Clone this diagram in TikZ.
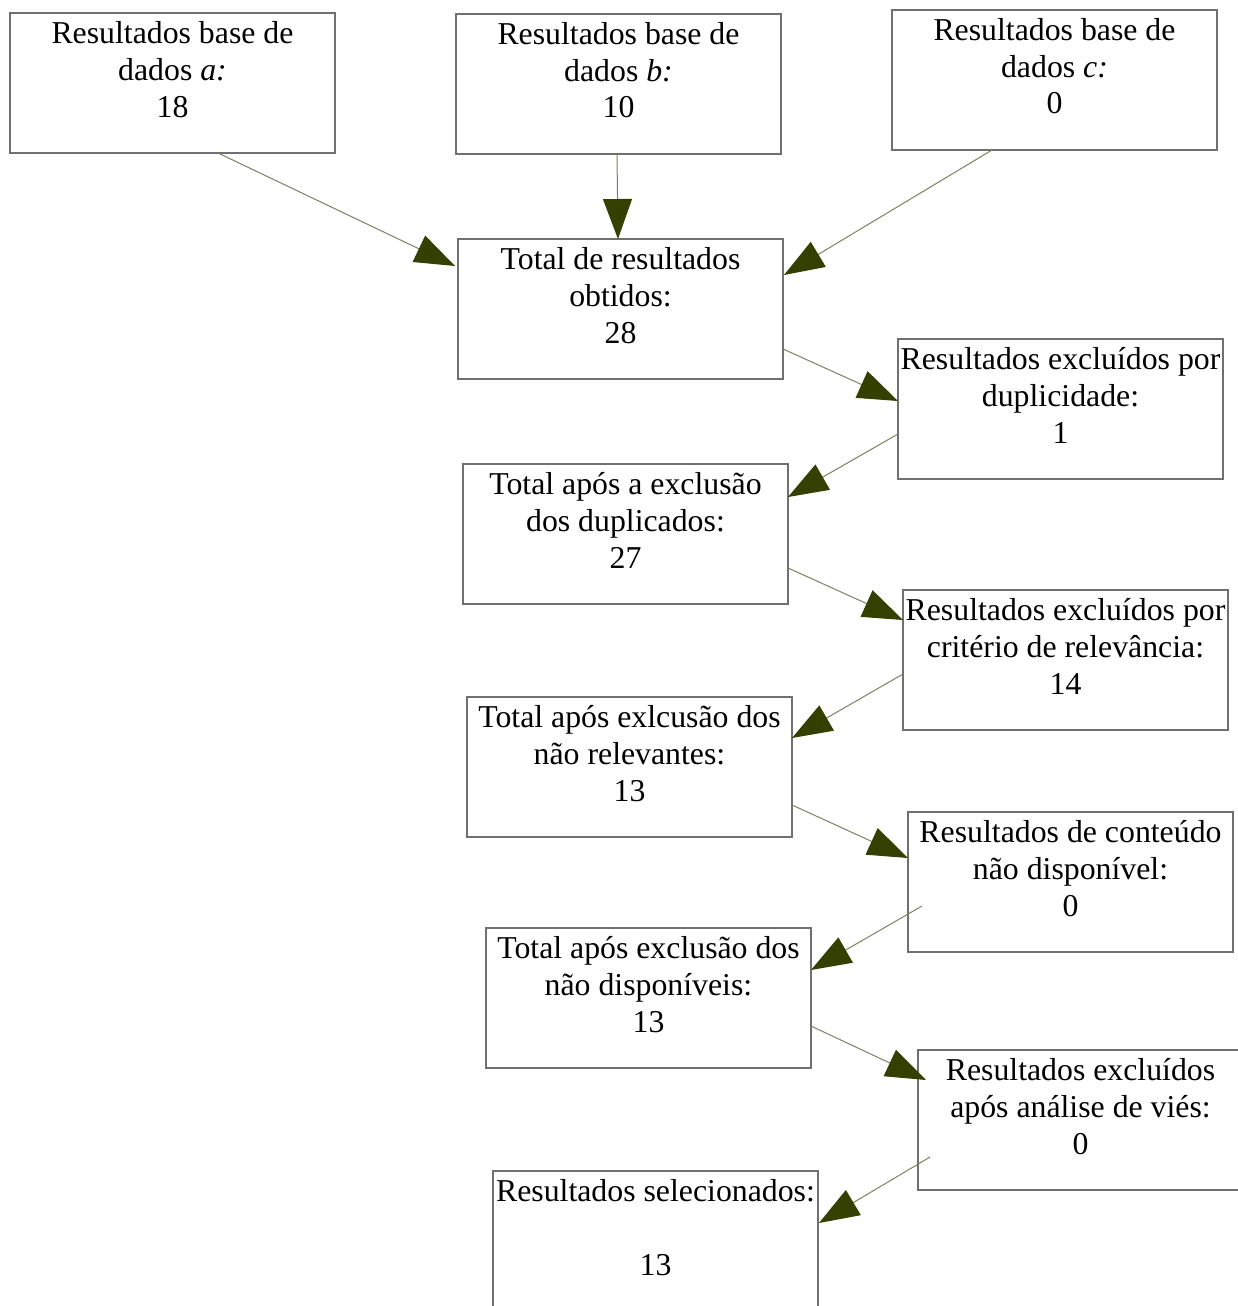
\documentclass[tikz,border=0pt]{standalone}
\usepackage{fontspec}
\setmainfont{Liberation Serif}
\usetikzlibrary{arrows.meta}
\definecolor{linec}{RGB}{128,128,96}
\definecolor{headc}{RGB}{52,64,0}
\definecolor{boxc}{RGB}{112,112,112}
\newcommand\bxt[1]{\parbox[c][140pt][t]{325pt}{\centering\fontsize{31.8}{37}\selectfont\rule{0pt}{30pt}#1}}
\tikzset{
  fbox/.style={draw=boxc, line width=1.2pt, inner sep=0pt, outer sep=0pt, anchor=north west, fill=white},
  conn/.style={draw=linec, line width=1pt, -{Triangle[length=40pt,width=29pt,color=headc]}}
}
\begin{document}
\begin{tikzpicture}[x=1pt,y=-1pt]
\useasboundingbox (0,0) rectangle (1237,1306);
\node[fbox] (A) at (10,13) {\bxt{Resultados base de\\dados \textit{a:}\\18}};
\node[fbox] (B) at (456,14) {\bxt{Resultados base de\\dados \textit{b:}\\10}};
\node[fbox] (C) at (892,10) {\bxt{Resultados base de\\dados \textit{c:}\\0}};
\node[fbox] (T1) at (458,239) {\bxt{Total de resultados\\obtidos:\\28}};
\node[fbox] (D1) at (898,339) {\bxt{Resultados excluídos por\\duplicidade:\\1}};
\node[fbox] (T2) at (463,464) {\bxt{Total após a exclusão\\dos duplicados:\\27}};
\node[fbox] (D2) at (903,590) {\bxt{Resultados excluídos por\\critério de relevância:\\14}};
\node[fbox] (T3) at (467,697) {\bxt{Total após exlcusão dos\\não relevantes:\\13}};
\node[fbox] (D3) at (908,812) {\bxt{Resultados de conteúdo\\não disponível:\\0}};
\node[fbox] (T4) at (486,928) {\bxt{Total após exclusão dos\\não disponíveis:\\13}};
\node[fbox] (D4) at (918,1050) {\bxt{Resultados excluídos\\após análise de viés:\\0}};
\node[fbox] (T5) at (493,1171) {\bxt{Resultados selecionados:\\\mbox{}\\13}};
\draw[conn] ([shift={(208,0)}]A.south west) -- ([shift={(-3,27)}]T1.north west);
\draw[conn] ([shift={(161,0)}]B.south west) -- ([shift={(160,0)}]T1.north west);
\draw[conn] ([shift={(100,0)}]C.south west) -- ([shift={(1,36)}]T1.north east);
\draw[conn] ([shift={(0,110)}]T1.north east) -- ([shift={(0,62)}]D1.north west);
\draw[conn] ([shift={(0,95)}]D1.north west) -- ([shift={(0,33)}]T2.north east);
\draw[conn] ([shift={(0,104)}]T2.north east) -- ([shift={(0,30)}]D2.north west);
\draw[conn] ([shift={(0,84)}]D2.north west) -- ([shift={(0,41)}]T3.north east);
\draw[conn] ([shift={(0,108)}]T3.north east) -- ([shift={(0,46)}]D3.north west);
\draw[conn] ([shift={(14,94)}]D3.north west) -- ([shift={(0,42)}]T4.north east);
\draw[conn] ([shift={(0,98)}]T4.north east) -- ([shift={(8,30)}]D4.north west);
\draw[conn] ([shift={(12,107)}]D4.north west) -- ([shift={(1,52)}]T5.north east);
\end{tikzpicture}
\end{document}
